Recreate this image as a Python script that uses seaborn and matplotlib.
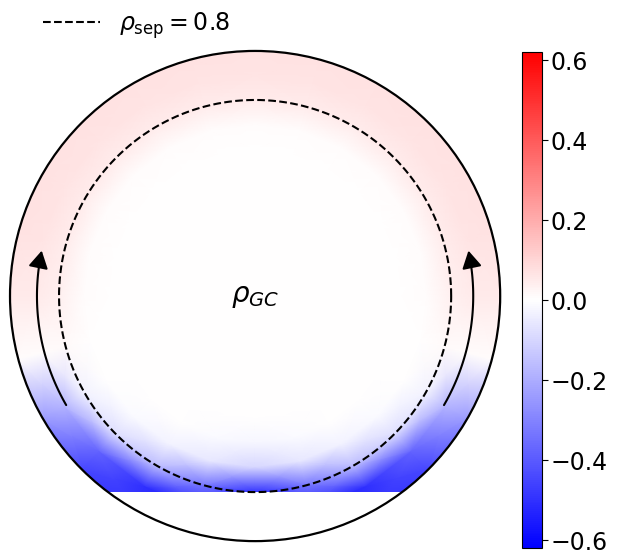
import numpy as np
import matplotlib
matplotlib.use("Agg")
import matplotlib.pyplot as plt
import seaborn as sns
from matplotlib.patches import Circle, Polygon, FancyArrowPatch
from matplotlib.path import Path

sns.set_style("white")
plt.rcParams["font.family"] = ["DejaVu Sans"]
plt.rcParams["text.color"] = "black"
plt.rcParams["xtick.color"] = "black"
plt.rcParams["ytick.color"] = "black"
plt.rcParams["axes.edgecolor"] = "black"

# ---------------- data ----------------
# radial nodes (normalised radius rho)
rho_nodes = [0.0, 0.5, 0.6, 0.7, 0.8, 0.9, 1.0, 1.05]
# poloidal angle nodes, degrees measured from the bottom (symmetric left/right)
theta_nodes = [0, 15, 30, 45, 60, 75, 90, 105, 120, 135, 150, 165, 180]
# field values rho_GC (rows: rho_nodes, columns: theta_nodes)
val_r000 = [0.00, 0.00, 0.00, 0.00, 0.00, 0.00, 0.00, 0.00, 0.00, 0.00, 0.00, 0.00, 0.00]
val_r050 = [0.00, 0.00, 0.00, 0.00, 0.00, 0.00, 0.00, 0.00, 0.00, 0.00, 0.00, 0.00, 0.00]
val_r060 = [-0.02, -0.01, 0.00, 0.00, 0.00, 0.00, 0.00, 0.00, 0.00, 0.00, 0.00, 0.00, 0.00]
val_r070 = [-0.10, -0.06, -0.03, -0.01, 0.00, 0.00, 0.005, 0.005, 0.005, 0.005, 0.005, 0.005, 0.005]
val_r080 = [-0.50, -0.33, -0.16, -0.08, -0.03, 0.01, 0.035, 0.045, 0.045, 0.045, 0.045, 0.045, 0.045]
val_r090 = [-0.55, -0.55, -0.50, -0.38, -0.18, 0.005, 0.05, 0.065, 0.065, 0.065, 0.065, 0.065, 0.065]
val_r100 = [-0.55, -0.55, -0.50, -0.45, -0.24, 0.005, 0.05, 0.07, 0.07, 0.07, 0.07, 0.07, 0.07]
val_r105 = [-0.55, -0.55, -0.50, -0.45, -0.24, 0.005, 0.05, 0.07, 0.07, 0.07, 0.07, 0.07, 0.07]

rho_sep = 0.8
cbar_ticks = [-0.6, -0.4, -0.2, 0.0, 0.2, 0.4, 0.6]

# ---------------- figure ----------------
fig = plt.figure(figsize=(6.26, 5.54), dpi=100)
ax = fig.add_axes([0.008, 0.0144, 0.799, 0.9025])
ax.set_xlim(-1.02, 1.02)
ax.set_ylim(-1.02, 1.02)
ax.set_aspect("equal")
ax.axis("off")

vals = np.array([val_r000, val_r050, val_r060, val_r070, val_r080,
                 val_r090, val_r100, val_r105])
th = np.array(theta_nodes, dtype=float)
# mirror to full circle: angle from -180..180 (from bottom)
th_full = np.concatenate([-th[::-1], th[1:]])
vals_full = np.concatenate([vals[:, ::-1], vals[:, 1:]], axis=1)
R, TH = np.meshgrid(np.array(rho_nodes), np.deg2rad(th_full), indexing="ij")
X = R * np.sin(TH)
Y = -R * np.cos(TH)

cmap = sns.color_palette("bwr", as_cmap=True)
mesh = ax.pcolormesh(X, Y, vals_full, cmap=cmap, vmin=-0.62, vmax=0.62,
                     shading="gouraud", zorder=1)

# clip region: inside outer boundary and above the bottom of the separatrix
a0 = np.arcsin(-rho_sep)
ang = np.linspace(a0, np.pi - a0, 400)
clip_poly = Polygon(np.column_stack([np.cos(ang), np.sin(ang)]), closed=True,
                    transform=ax.transData, facecolor="none", edgecolor="none")
ax.add_patch(clip_poly)
mesh.set_clip_path(clip_poly)

# outer boundary
ax.add_patch(Circle((0, 0), 1.0, fill=False, edgecolor="black", lw=1.6, zorder=3))
# separatrix
t = np.linspace(0, 2 * np.pi, 400)
ax.plot(rho_sep * np.cos(t), rho_sep * np.sin(t), "k--", lw=1.5, zorder=3,
        label=r"$\rho_{\rm sep} = 0.8$")

# arrows
for side in (-1, 1):
    a = np.deg2rad(np.linspace(-30, 12, 60))
    px = side * 0.89 * np.cos(a)
    py = 0.89 * np.sin(a)
    arr = FancyArrowPatch(path=Path(np.column_stack([px, py])),
                          arrowstyle="-|>,head_length=0.7,head_width=0.4",
                          mutation_scale=15, lw=1.5, color="black", zorder=4)
    ax.add_patch(arr)

ax.text(0, 0, r"$\rho_{GC}$", ha="center", va="center", fontsize=20, zorder=5)

fig.legend(loc="upper left", bbox_to_anchor=(0.035, 1.02), frameon=False,
           handlelength=2.4, handletextpad=0.8, fontsize=17)

cax = fig.add_axes([0.834, 0.0108, 0.032, 0.895])
cb = fig.colorbar(mesh, cax=cax, ticks=cbar_ticks)
cb.ax.tick_params(labelsize=17, length=4, pad=2)
cb.set_ticklabels(["\u22120.6", "\u22120.4", "\u22120.2", "0.0", "0.2", "0.4", "0.6"])
cb.outline.set_edgecolor("black")

fig.savefig("out.png", dpi=100)
